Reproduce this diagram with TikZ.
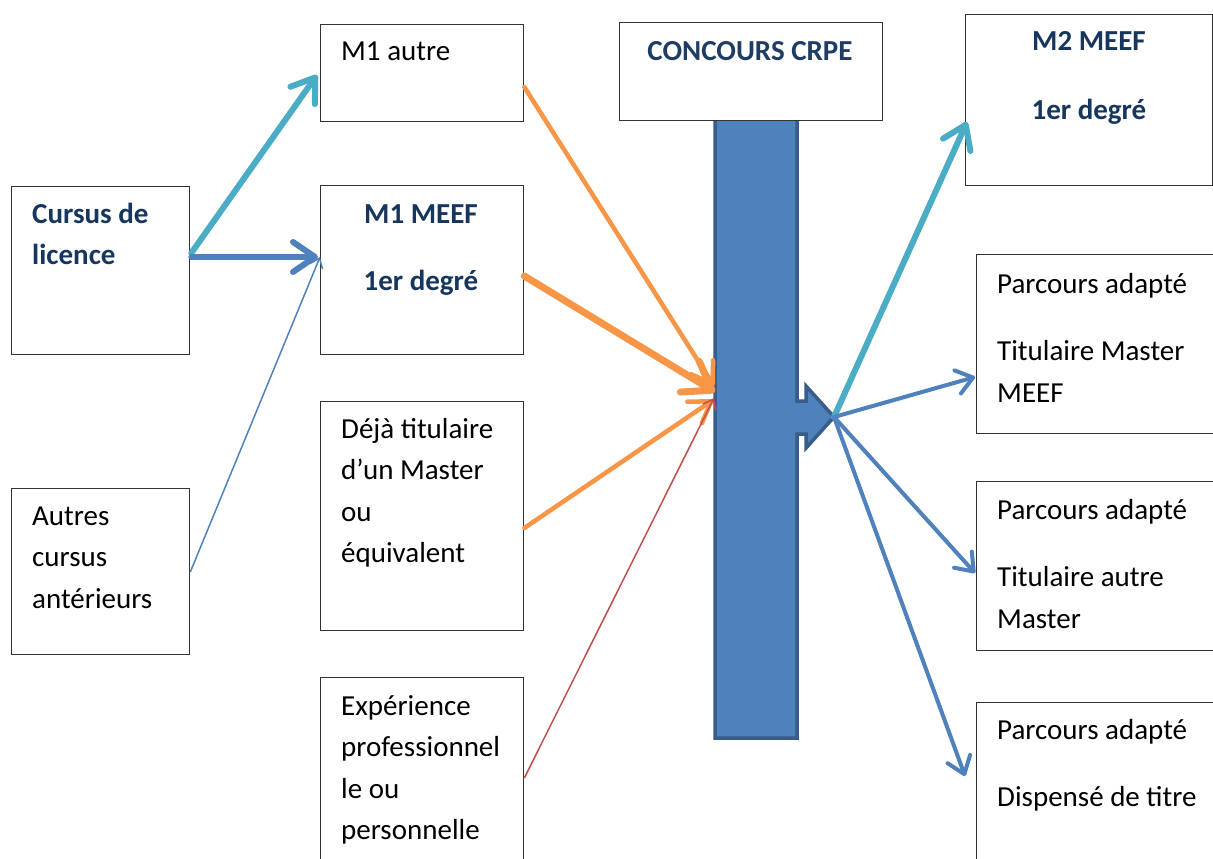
\documentclass[tikz,border=0pt]{standalone}
\usepackage{fontspec}
\setmainfont{Carlito}
\usetikzlibrary{arrows.meta,calc}
\definecolor{tealA}{HTML}{4BACC6}
\definecolor{blueA}{HTML}{4F81BD}
\definecolor{blueB}{HTML}{385D8A}
\definecolor{orngA}{HTML}{F79646}
\definecolor{redA}{HTML}{C0504D}
\definecolor{navyA}{HTML}{17365D}
\definecolor{navyB}{HTML}{1F3D64}
\definecolor{frameA}{HTML}{333333}
\newcommand\mylines[2][230pt]{\parbox[t]{#1}{\fontsize{29}{41.5}\selectfont\raggedright #2}}
\newcommand\mycent[2][230pt]{\parbox[t]{#1}{\fontsize{29}{41.5}\selectfont\centering\bfseries #2}}
\begin{document}
\begin{tikzpicture}[x=1pt,y=-1pt,
  box/.style={draw=frameA, line width=1.3pt, fill=white, rectangle, inner sep=0pt, anchor=north west},
  txt/.style={anchor=base west, inner sep=0pt},
  ctxt/.style={anchor=base, inner sep=0pt, text=navyA},
  tealarr/.style={draw=tealA, line width=6pt, line cap=round, -{Straight Barb[length=22pt,width=30pt,round]}},
  bluethick/.style={draw=blueA, line width=6pt, line cap=round, -{Straight Barb[length=22pt,width=30pt,round]}},
  bluemed/.style={draw=blueA, line width=4pt, line cap=round, -{Straight Barb[length=16pt,width=24pt,round]}},
  orngarr/.style={draw=orngA, line width=4.5pt, line cap=round, -{Straight Barb[length=20pt,width=26pt,round]}},
  orngthick/.style={draw=orngA, line width=7pt, line cap=round, -{Straight Barb[length=26pt,width=36pt,round]}},
  thinblue/.style={draw=blueA, line width=1.5pt, -{Straight Barb[length=9pt,width=14pt]}},
  thinred/.style={draw=redA, line width=1.5pt, -{Straight Barb[length=9pt,width=14pt]}}
]
\clip (0,0) rectangle (1213,859);
\fill[white] (0,0) rectangle (1213,859);

% boxes
\node[box, minimum width=178pt, minimum height=168pt] (cursus) at (11,186) {};
\node[box, minimum width=178pt, minimum height=166pt] (autres) at (11,488) {};
\node[box, minimum width=203pt, minimum height=97pt] (m1a) at (320,24) {};
\node[box, minimum width=203pt, minimum height=169pt] (m1m) at (320,185) {};
\node[box, minimum width=203pt, minimum height=229pt] (deja) at (320,401) {};
\node[box, minimum width=203pt, minimum height=200pt] (exp) at (320,677) {};
\node[box, minimum width=247pt, minimum height=171pt] (m2) at (965,14) {};
\node[box, minimum width=260pt, minimum height=179pt] (pa1) at (976,254) {};
\node[box, minimum width=260pt, minimum height=169pt] (pa2) at (976,481) {};
\node[box, minimum width=260pt, minimum height=180pt] (pa3) at (976,702) {};

% central bar with arrow
\draw[fill=blueA, draw=blueB, line width=3.5pt, line join=miter]
  (715,100) -- (797,100) -- (797,401) -- (806,401) -- (806,386) -- (834,417)
  -- (806,448) -- (806,434) -- (797,434) -- (797,738) -- (715,738) -- cycle;
\coordinate (barout) at (834,417);
\node[box, minimum width=263pt, minimum height=98pt] (conc) at (619,22) {};

% connector end points
\coordinate (a1s) at ($(cursus.north east)+(1,67)$);
\coordinate (a1e) at ($(m1a.north west)+(-3,51)$);
\coordinate (a2s) at ($(cursus.north east)+(1,71)$);
\coordinate (a2e) at ($(m1m.north west)+(-2,72)$);
\coordinate (a3s) at ($(autres.north east)+(0,84)$);
\coordinate (a3e) at ($(m1m.north west)+(0,72)$);
\coordinate (a4s) at ($(m1a.north east)+(0,63)$);
\coordinate (a5s) at ($(m1m.north east)+(0,91)$);
\coordinate (a6s) at ($(deja.north east)+(0,127)$);
\coordinate (a7s) at ($(exp.north east)+(0,101)$);
\coordinate (b4) at (714,386);
\coordinate (b5) at (715,392);
\coordinate (b6) at (713,400);
\coordinate (b7) at (714,398);
\coordinate (a8e) at ($(m2.north west)+(2,108)$);
\coordinate (a9e) at ($(pa1.north west)+(-1,123)$);
\coordinate (a10e) at ($(pa2.north west)+(-1,92)$);
\coordinate (a11e) at ($(pa3.north west)+(-11,74)$);

% connectors
\draw[tealarr] (a1s) -- (a1e);
\draw[bluethick] (a2s) -- (a2e);
\draw[thinblue] (a3s) -- (a3e);
\draw[orngarr] (a4s) -- (b4);
\draw[orngthick] (a5s) -- (b5);
\draw[orngarr] (a6s) -- (b6);
\draw[thinred] (a7s) -- (b7);
\draw[tealarr] (barout) -- (a8e);
\draw[bluemed] (barout) -- (a9e);
\draw[bluemed] (barout) -- (a10e);
\draw[bluemed] (barout) -- (a11e);

% texts
\node[txt, text=navyA] (tcursus) at (32,223) {\mylines{\bfseries Cursus de\\licence}};
\node[txt] (tautres) at (32,525) {\mylines{Autres\\cursus\\antérieurs}};
\node[txt] (tm1a) at (341,61) {\mylines{M1 autre}};
\node[ctxt] (tm1m) at (421,223) {\mycent{M1 MEEF\\[26pt]1er degré}};
\node[txt] (tdeja) at (341,438) {\mylines{Déjà titulaire\\d’un Master\\ou\\équivalent}};
\node[txt] (texp) at (341,715) {\mylines{Expérience\\professionnel\\le ou\\personnelle}};
\node[ctxt, text=navyB] (tconc) at (750,60) {\mycent[260pt]{CONCOURS CRPE}};
\node[ctxt] (tm2) at (1089,51) {\mycent{M2 MEEF\\[27pt]1er degré}};
\node[txt] (tpa1) at (997,293) {\mylines{Parcours adapté\\[26pt]Titulaire Master\\MEEF}};
\node[txt] (tpa2) at (997,519) {\mylines{Parcours adapté\\[26pt]Titulaire autre\\Master}};
\node[txt] (tpa3) at (997,739) {\mylines{Parcours adapté\\[26pt]Dispensé de titre}};
\end{tikzpicture}
\end{document}
